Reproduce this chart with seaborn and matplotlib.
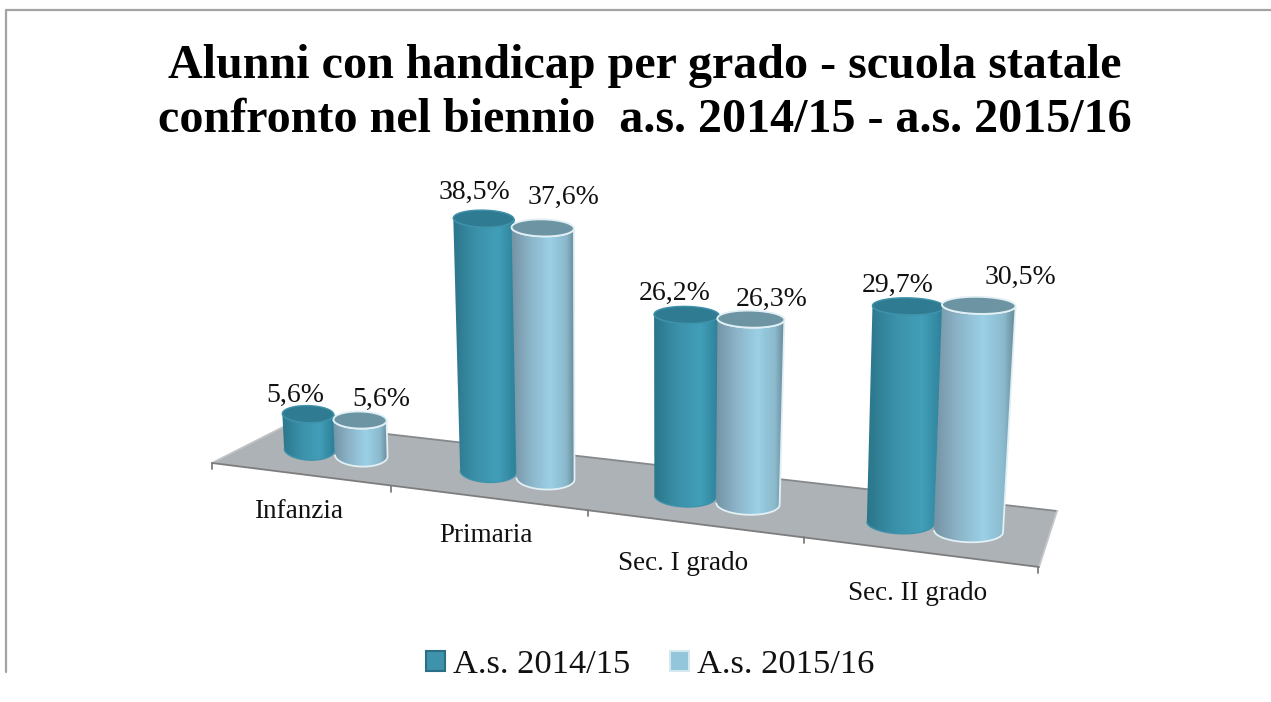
# Alunni con handicap per grado - cylinders drawn from the seaborn bars
import numpy as np
import pandas as pd
import seaborn as sns
from matplotlib import pyplot as plt
from matplotlib.colors import to_rgb
from matplotlib.lines import Line2D
from matplotlib.patches import PathPatch, Polygon
from matplotlib.path import Path
from matplotlib.transforms import Affine2D

# data
categories = ['Infanzia', 'Primaria', 'Sec. I grado', 'Sec. II grado']
years = ['A.s. 2014/15', 'A.s. 2015/16']
values_2014 = [5.6, 38.5, 26.2, 29.7]
values_2015 = [5.6, 37.6, 26.3, 30.5]

# layout, in image pixels
W, H = 1271, 702
floor_corners = [(212, 463), (291, 423), (1057, 511), (1039, 567)]
cat_label_pos = [(299, 511), (486, 535), (683, 563), (918, 593)]
label_dx = [[-13, -9, -12, -11], [21, 21, 21, 42]]
label_dy = [[-11, -19, -14, -13], [-13, -23, -12, -20]]

# colours
side_stops = [0, 0.35, 0.7, 1], [0, 0.3, 0.6, 0.85, 1]
side_colors = [['#2a7489', '#3a90a8', '#429fb9', '#2a7d94'],
               ['#7392a3', '#8cb4c8', '#9bd0e6', '#8bb9cc', '#62828f']]
top_colors = ['#2f7c92', '#6d94a3']
rim_colors = ['#3f92ab', '#e2f0f6']
legend_colors = ['#3f92ab', '#93c6da']
legend_edges = ['#2a6f86', '#d4e8f0']

df = pd.DataFrame({
    'grado': categories * 2,
    'quota': values_2014 + values_2015,
    'anno': [years[0]] * 4 + [years[1]] * 4,
})

sns.set_theme(style='white')
plt.rcParams['font.family'] = ['Liberation Serif', 'DejaVu Serif']

fig, ax = plt.subplots(figsize=(W / 100, H / 100), dpi=100)
ax.set_position([0, 0, 1, 1])
sns.barplot(data=df, x='grado', y='quota', hue='anno', hue_order=years,
            palette=legend_colors, saturation=1, width=0.6, ax=ax)
xlim, ylim = ax.get_xlim(), ax.get_ylim()
ax.set_axis_off()
ax.autoscale(False)

# pixel coordinates, y pointing down
px = Affine2D().scale(1, -1).translate(0, H)


def base_x(u):
    return 335 + 172.4 * u + 9.1 * u ** 2


def base_y(x):
    return 449 + 0.1246 * (x - 308.5)


def px_per_unit(x):
    return 6.25 + (x - 308) * 0.00175


def front_x(t):
    return 212 + 170 * t + 9.1 * t ** 2


def gradient(stops, colors):
    pos = np.linspace(0, 1, 160)
    rgb = np.array([to_rgb(c) for c in colors])
    return np.stack([np.interp(pos, stops, rgb[:, i]) for i in range(3)], axis=-1)[None, :, :]


# floor and ticks
ax.add_patch(Polygon(floor_corners, closed=True, transform=px, fc='#adb2b7',
                     ec='none', zorder=1))
(fl, bl, br, fr) = floor_corners
for a, b, col in [(fl, bl, '#c0c3c6'), (bl, br, '#85898c'), (br, fr, '#c4c7ca'), (fl, fr, '#7d7d7d')]:
    ax.add_line(Line2D([a[0], b[0]], [a[1], b[1]], transform=px, color=col, lw=1.3, zorder=1.5))
for t in range(5):
    xt = front_x(t)
    yt = fl[1] + (fr[1] - fl[1]) / (fr[0] - fl[0]) * (xt - fl[0])
    ax.add_line(Line2D([xt, xt], [yt, yt + 6], transform=px, color='#7d7d7d', lw=1.3, zorder=1.5))

# cylinders
z = 2
theta = np.linspace(0, np.pi, 40)
for container in ax.containers:
    for bar in container:
        bar.set_visible(False)

for c in range(len(categories)):
    for s, container in enumerate(ax.containers):
        bar = container[c]
        u0 = bar.get_x()
        x0, x1 = base_x(u0), base_x(u0 + bar.get_width())
        xb = (x0 + x1) / 2
        rb = (x1 - x0) / 2
        yb = base_y(xb)
        h = bar.get_height() * px_per_unit(xb)
        xt = xb + h * (xb - 628) * 1.33e-4
        yt = yb - h
        rt = rb * (1 + h * 3e-4)

        # body outline: bottom arc, then front arc of the top
        bx = xb - rb * np.cos(theta)
        by = yb + 11 * np.sin(theta) + 0.03 * (bx - xb)
        tx = xt + rt * np.cos(theta)
        ty = yt + 8.5 * np.sin(theta) + 0.02 * (tx - xt)
        outline = np.column_stack([np.r_[bx, tx], np.r_[by, ty]])
        clip = PathPatch(Path(outline), transform=px, fc='none', ec='none', zorder=z)
        ax.add_patch(clip)
        left, right = min(xb - rb, xt - rt) - 1, max(xb + rb, xt + rt) + 1
        im = ax.imshow(gradient(side_stops[s], side_colors[s]), aspect='auto', transform=px,
                       extent=(left, right, yb + 14, yt - 10), zorder=z + 0.1, interpolation='bilinear')
        im.set_clip_path(clip)
        ax.add_patch(PathPatch(Path(outline), transform=px, fc='none', ec=rim_colors[s],
                               lw=1.0 + 0.3 * s, zorder=z + 0.2))

        # top ellipse
        t2 = np.linspace(0, 2 * np.pi, 80)
        ex = xt + rt * np.cos(t2)
        ey = yt + 8.5 * np.sin(t2) + 0.02 * (ex - xt)
        ax.add_patch(Polygon(np.column_stack([ex, ey]), closed=True, transform=px,
                             fc=top_colors[s], ec=rim_colors[s], lw=1.0 + 0.3 * s, zorder=z + 0.3))
        z += 1

        # value label
        ax.text(xt + label_dx[s][c], yt - 7.5 + label_dy[s][c], f'{bar.get_height():.1f}%'.replace('.', ','),
                transform=px, ha='center', va='center', fontsize=20, color='#111111', zorder=50)

# category labels
for name, (xl, yl) in zip(categories, cat_label_pos):
    ax.text(xl, yl, name, transform=px, ha='center', va='center', fontsize=19.5, color='#111111')

# title
ax.text(645, 66, 'Alunni con handicap per grado - scuola statale', transform=px, ha='center',
        va='center', fontsize=34.6, fontweight='bold', color='black')
ax.text(645, 120, 'confronto nel biennio  a.s. 2014/15 - a.s. 2015/16', transform=px, ha='center',
        va='center', fontsize=34.6, fontweight='bold', color='black')

# frame of the pasted picture
ax.add_line(Line2D([W, 6, 6], [10, 10, 672], transform=px, color='#a3a3a3', lw=1.6, zorder=60))

# legend
sns.move_legend(ax, 'center', bbox_to_anchor=(650 / W, 1 - 665 / H), ncol=2, frameon=False, title=None,
                fontsize=24.8, labelcolor='#111111', handlelength=0.55, handleheight=0.55,
                handletextpad=0.23, columnspacing=1.16)
for handle, edge in zip(ax.get_legend().get_patches(), legend_edges):
    handle.set_edgecolor(edge)
    handle.set_linewidth(1.5)

ax.set_xlim(xlim)
ax.set_ylim(ylim)
fig.savefig('out.png', dpi=100)
